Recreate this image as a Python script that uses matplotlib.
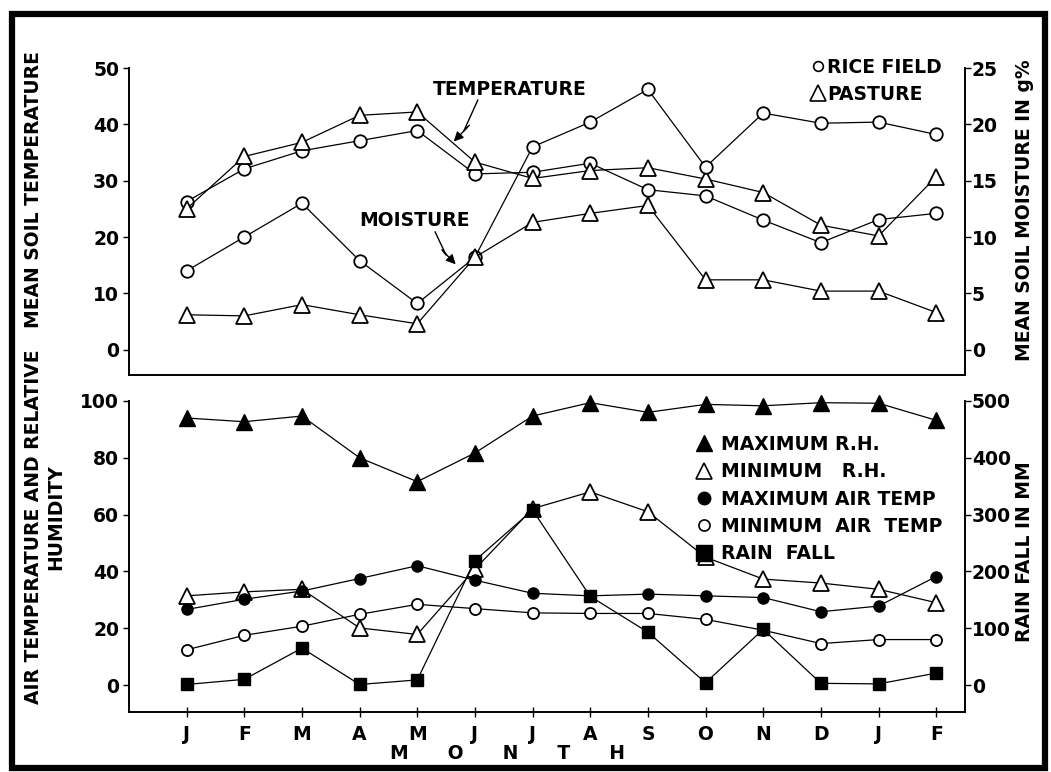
import matplotlib
matplotlib.use("Agg")
import matplotlib.pyplot as plt
from matplotlib.lines import Line2D
from matplotlib.patches import Rectangle

plt.rcParams['font.family'] = ['DejaVu Sans']
plt.rcParams['font.weight'] = 'bold'

# months (Jan of one year to Feb of the next)
months = ['J', 'F', 'M', 'A', 'M', 'J', 'J', 'A', 'S', 'O', 'N', 'D', 'J', 'F']
x = list(range(len(months)))

# top panel: mean soil temperature (left axis) and moisture in g% (right axis)
rice_temp = [26.3, 32.1, 35.3, 37.1, 38.9, 31.2, 31.5, 33.1, 28.4, 27.3, 23.0, 19.0, 23.1, 24.2]
pasture_temp = [25.0, 34.3, 36.8, 41.6, 42.2, 33.3, 30.4, 31.8, 32.3, 30.3, 27.9, 22.1, 20.2, 30.7]
rice_moist = [7.0, 10.0, 13.0, 7.9, 4.1, 8.2, 18.0, 20.2, 23.1, 16.2, 21.0, 20.1, 20.2, 19.1]
pasture_moist = [3.1, 3.0, 4.0, 3.1, 2.3, 8.2, 11.3, 12.1, 12.8, 6.2, 6.2, 5.2, 5.2, 3.3]

# bottom panel: air temperature / relative humidity (left), rain fall mm (right)
max_rh = [94.0, 92.7, 94.7, 80.0, 71.6, 81.7, 94.7, 99.4, 96.0, 98.8, 98.3, 99.4, 99.2, 93.2]
min_rh = [31.4, 32.8, 33.7, 20.1, 17.8, 40.8, 62.1, 68.0, 61.0, 45.0, 37.3, 35.9, 33.7, 29.0]
max_air = [26.6, 30.2, 33.1, 37.5, 42.0, 36.9, 32.3, 31.4, 32.0, 31.4, 30.8, 25.8, 27.8, 38.2]
min_air = [12.4, 17.5, 20.7, 24.9, 28.4, 26.9, 25.4, 25.2, 25.2, 23.1, 19.3, 14.6, 16.0, 16.0]
rain = [1, 10, 65, 1, 9, 219, 308, 156, 93, 4, 98, 3, 2, 21]

lw = 0.9
fs = 13.5

fig = plt.figure(figsize=(10.51, 7.72), dpi=100)
ax1 = fig.add_axes([0.1227, 0.5142, 0.7955, 0.3977])
ax1r = ax1.twinx()
ax2 = fig.add_axes([0.1227, 0.0777, 0.7955, 0.4029])
ax2r = ax2.twinx()

# ---- top panel
ax1.plot(x, rice_temp, 'k-', lw=lw, marker='o', ms=9, mfc='white', mec='k', mew=1.3)
ax1.plot(x, pasture_temp, 'k-', lw=lw, marker='^', ms=12, mfc='white', mec='k', mew=1.3)
ax1r.plot(x, rice_moist, 'k-', lw=lw, marker='o', ms=9, mfc='white', mec='k', mew=1.3)
ax1r.plot(x, pasture_moist, 'k-', lw=lw, marker='^', ms=12, mfc='white', mec='k', mew=1.3)

ax1.set_xlim(-1, 13.5)
ax1.set_ylim(-4.5, 50)
ax1r.set_ylim(-2.25, 25)
ax1.set_yticks([0, 10, 20, 30, 40, 50])
ax1r.set_yticks([0, 5, 10, 15, 20, 25])
ax1.set_xticks([])

# annotations with the zigzag arrows
ax1.text(4.27, 46.1, 'TEMPERATURE', fontsize=fs, va='center', ha='left')
ax1.plot([5.05, 4.81, 4.90], [44.3, 38.9, 39.8], 'k-', lw=1)
ax1.annotate('', xy=(4.60, 36.6), xytext=(4.90, 39.8),
             arrowprops=dict(arrowstyle='-|>', color='k', lw=1, mutation_scale=14))
ax1.text(3.0, 23.0, 'MOISTURE', fontsize=fs, va='center', ha='left')
ax1.plot([4.31, 4.50, 4.43], [20.9, 16.8, 17.7], 'k-', lw=1)
ax1.annotate('', xy=(4.70, 14.8), xytext=(4.43, 17.7),
             arrowprops=dict(arrowstyle='-|>', color='k', lw=1, mutation_scale=14))

top_handles = [Line2D([], [], ls='none', marker='o', ms=7, mfc='white', mec='k', mew=1.2),
               Line2D([], [], ls='none', marker='^', ms=12, mfc='white', mec='k', mew=1.2)]
fig.legend(top_handles, ['RICE FIELD', 'PASTURE'], loc='upper left',
           bbox_to_anchor=(0.763, 0.937), frameon=False, fontsize=fs,
           handlelength=0.7, handletextpad=0.15, labelspacing=0.4, borderpad=0)

# ---- bottom panel
ax2.plot(x, max_rh, 'k-', lw=lw, marker='^', ms=12, mfc='k', mec='k', clip_on=False)
ax2.plot(x, min_rh, 'k-', lw=lw, marker='^', ms=12, mfc='white', mec='k', mew=1.3)
ax2.plot(x, max_air, 'k-', lw=lw, marker='o', ms=8, mfc='k', mec='k')
ax2.plot(x, min_air, 'k-', lw=lw, marker='o', ms=8, mfc='white', mec='k', mew=1.3)
ax2r.plot(x, rain, 'k-', lw=lw, marker='s', ms=9, mfc='k', mec='k')

ax2.set_xlim(-1, 13.5)
ax2.set_ylim(-9.5, 100)
ax2r.set_ylim(-47.5, 500)
ax2.set_yticks([0, 20, 40, 60, 80, 100])
ax2r.set_yticks([0, 100, 200, 300, 400, 500])
ax2.set_xticks(x)
ax2.set_xticklabels(months)

bot_handles = [Line2D([], [], ls='none', marker='^', ms=12, mfc='k', mec='k'),
               Line2D([], [], ls='none', marker='^', ms=12, mfc='white', mec='k', mew=1.2),
               Line2D([], [], ls='none', marker='o', ms=9, mfc='k', mec='k'),
               Line2D([], [], ls='none', marker='o', ms=8, mfc='white', mec='k', mew=1.2),
               Line2D([], [], ls='none', marker='s', ms=11, mfc='k', mec='k')]
fig.legend(bot_handles, ['MAXIMUM R.H.', 'MINIMUM   R.H.', 'MAXIMUM AIR TEMP',
                         'MINIMUM  AIR  TEMP', 'RAIN  FALL'],
           loc='upper left', bbox_to_anchor=(0.652, 0.449), frameon=False, fontsize=fs,
           handlelength=1.0, handletextpad=0.4, labelspacing=0.45, borderpad=0)

# ---- spines / ticks
for a in (ax1, ax1r, ax2, ax2r):
    a.spines['top'].set_visible(False)
    a.spines['left'].set_linewidth(1.2)
    a.spines['right'].set_linewidth(1.2)
    a.spines['bottom'].set_linewidth(1.2)
    a.tick_params(labelsize=fs, width=1, length=4, pad=3)
ax1r.tick_params(pad=1)
ax2r.tick_params(pad=1)
ax2.tick_params(axis='x', direction='inout', length=7, pad=6)

for t in ax1.get_yticklabels() + ax1r.get_yticklabels() + ax2.get_yticklabels() \
        + ax2r.get_yticklabels() + ax2.get_xticklabels():
    t.set_fontweight('bold')

# axis titles
fig.text(0.032, 0.754, 'MEAN SOIL TEMPERATURE', rotation=90, ha='center', va='center', fontsize=fs)
fig.text(0.032, 0.318, 'AIR TEMPERATURE AND RELATIVE', rotation=90, ha='center', va='center', fontsize=fs)
fig.text(0.053, 0.33, 'HUMIDITY', rotation=90, ha='center', va='center', fontsize=fs)
fig.text(0.975, 0.728, 'MEAN SOIL MOISTURE IN g%', rotation=90, ha='center', va='center', fontsize=fs)
fig.text(0.975, 0.285, 'RAIN FALL IN MM', rotation=90, ha='center', va='center', fontsize=fs)
fig.text(0.4824, 0.024, 'M      O      N      T      H', ha='center', va='center', fontsize=fs)

# frame around the whole figure
fig.patches.append(Rectangle((0.0114, 0.0052), 0.983, 0.9767, transform=fig.transFigure,
                             fill=False, lw=4.5, ec='k'))

fig.savefig('out.png', dpi=100)
